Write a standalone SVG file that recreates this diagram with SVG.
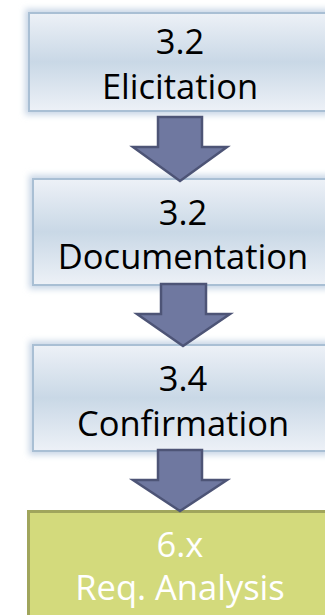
<svg xmlns="http://www.w3.org/2000/svg" width="325" height="615" viewBox="0 0 325 615">
<style>
.box{fill:url(#bg);stroke:#a9bfd4;stroke-width:2}
.glow{fill:#c8d6e6;filter:url(#blur)}
.t{font-family:"Open Sans","Liberation Sans",Arial,sans-serif;font-size:34.5px;text-anchor:middle;fill:#000}
.tw{font-family:"Open Sans","Liberation Sans",Arial,sans-serif;font-size:34.5px;text-anchor:middle;fill:#fff}
.arr{fill:#6f78a0;stroke:#4d5476;stroke-width:2.5;stroke-linejoin:miter}
</style>
<defs>
<linearGradient id="bg" x1="0" y1="0" x2="0" y2="1">
<stop offset="0" stop-color="#edf1f7"/>
<stop offset="0.5" stop-color="#c9d8e6"/>
<stop offset="1" stop-color="#edf1f7"/>
</linearGradient>
<filter id="blur" x="-20%" y="-20%" width="140%" height="140%"><feGaussianBlur stdDeviation="3"/></filter>
</defs>
<rect width="325" height="615" fill="#fff"/>
<g id="n1">
<rect class="glow" x="25" y="9" width="310" height="106"/>
<rect class="box" x="29" y="13" width="310" height="98"/>
<text class="t" x="180" y="54">3.2</text>
<text class="t" x="180" y="99">Elicitation</text>
</g>
<g id="n2">
<rect class="glow" x="29" y="175" width="310" height="114"/>
<rect class="box" x="33" y="179" width="310" height="106"/>
<text class="t" x="183" y="225">3.2</text>
<text class="t" x="183" y="269">Documentation</text>
</g>
<g id="n3">
<rect class="glow" x="29" y="341" width="310" height="114"/>
<rect class="box" x="33" y="345" width="310" height="106"/>
<text class="t" x="183" y="391">3.4</text>
<text class="t" x="183" y="436">Confirmation</text>
</g>
<g id="n4">
<rect x="27" y="510" width="320" height="120" fill="#a0a55c"/>
<rect x="30" y="513" width="320" height="120" fill="#d3da7c"/>
<text class="tw" x="180" y="557">6.x</text>
<text class="tw" x="180" y="600">Req. Analysis</text>
</g>
<g id="connectors">
<path class="arr" d="M158 117 H202 V147 H227 L180 181 L133 147 H158 Z"/>
<path class="arr" d="M161 284 H206 V314 H230 L183 346 L137 314 H161 Z"/>
<path class="arr" d="M158 450 H202 V480 H227 L180 511 L133 480 H158 Z"/>
</g>
</svg>
